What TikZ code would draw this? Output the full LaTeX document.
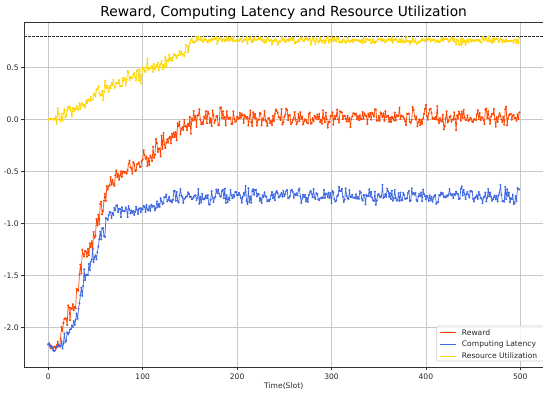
\documentclass[tikz,border=0pt]{standalone}
\usepackage{fontspec}
\setmainfont{DejaVu Sans}
\definecolor{rewardc}{HTML}{FF4500}
\definecolor{latc}{HTML}{4169E1}
\definecolor{utilc}{HTML}{FFD700}
\definecolor{gridc}{HTML}{C8C8C8}
\definecolor{spinec}{HTML}{333333}
\definecolor{legedge}{HTML}{D0D0D0}

\newcommand\mkseries[2]{%
  \gdef\serpts{}%
  \foreach \ta/\va/\tb/\vb/\sg in {#2}{%
    \pgfmathtruncatemacro\tbm{\tb-1}%
    \foreach \ti in {\ta,...,\tbm}{%
      \pgfmathsetmacro\vv{\va+(\vb-\va)*(\ti-\ta)/(\tb-\ta)+\sg*(rand+rand+rand)}%
      \xdef\serpts{\serpts (\ti,\vv)}%
    }%
  }%
  \global\expandafter\let\csname #1\endcsname\serpts
}

\tikzset{
  series/.style={line width=0.7pt, line join=round, mark=*, mark size=0.7pt},
  gridline/.style={draw=gridc, line width=0.6pt},
  spine/.style={draw=spinec, line width=0.7pt},
  tickmark/.style={draw=spinec, line width=0.6pt},
  ticklab/.style={font=\fontsize{7.6}{9}\selectfont, text=black!85, inner sep=0pt},
  legtext/.style={font=\fontsize{7.6}{9}\selectfont, text=black!85, anchor=west, inner sep=0pt},
}

\begin{document}
\pgfmathsetseed{20240}
\mkseries{rewpts}{0/-2.15/5/-2.22/0.01, 5/-2.22/10/-2.15/0.015, 10/-2.15/20/-1.92/0.05, 20/-1.92/30/-1.74/0.06, 30/-1.74/35/-1.42/0.065, 35/-1.42/44/-1.22/0.065, 44/-1.22/51/-1.03/0.06, 51/-1.03/57/-0.88/0.06, 57/-0.88/62/-0.66/0.05, 62/-0.66/72/-0.58/0.04, 72/-0.58/90/-0.46/0.045, 90/-0.46/108/-0.39/0.05, 108/-0.39/122/-0.23/0.055, 122/-0.23/140/-0.10/0.05, 140/-0.10/160/0.01/0.045, 160/0.01/500/0.02/0.044}
\mkseries{latpts}{0/-2.15/6/-2.23/0.008, 6/-2.23/10/-2.17/0.01, 10/-2.17/14/-2.20/0.01, 14/-2.20/23/-2.00/0.035, 23/-2.00/32/-1.85/0.04, 32/-1.85/37/-1.58/0.055, 37/-1.58/48/-1.36/0.055, 48/-1.36/55/-1.17/0.05, 55/-1.17/62/-0.98/0.045, 62/-0.98/67/-0.89/0.025, 67/-0.89/97/-0.87/0.024, 97/-0.87/115/-0.84/0.03, 115/-0.84/125/-0.77/0.03, 125/-0.77/160/-0.74/0.035, 160/-0.74/500/-0.735/0.039}
\mkseries{utipts}{0/0.0/7/0.0/0.004, 7/0.0/50/0.22/0.036, 50/0.22/100/0.45/0.038, 100/0.45/148/0.66/0.038, 148/0.66/151/0.76/0.01, 151/0.76/500/0.758/0.016}
\begin{tikzpicture}[x=1pt,y=-1pt]
\useasboundingbox (0,0) rectangle (543,394);
% grid
\foreach \t in {0,100,200,300,400,500}{
  \draw[gridline] ({48.3+0.944*\t},22) -- ({48.3+0.944*\t},367.3);
}
\foreach \v in {0.5,0,-0.5,-1,-1.5,-2}{
  \draw[gridline] (24.3,{119.3-104*\v}) -- (543,{119.3-104*\v});
}
% dashed reference
\draw[black!80, line width=0.6pt, dash pattern=on 2.8pt off 1.2pt] (24.3,{119.3-104*0.8}) -- (543,{119.3-104*0.8});
% data
\begin{scope}[shift={(48.3pt,-119.3pt)}, x=0.944pt, y=104pt]
  \edef\tmp{\noexpand\draw[series, color=rewardc] plot coordinates {\rewpts};}\tmp
  \edef\tmp{\noexpand\draw[series, color=latc] plot coordinates {\latpts};}\tmp
  \edef\tmp{\noexpand\draw[series, color=utilc] plot coordinates {\utipts};}\tmp
\end{scope}
% spines
\draw[spine] (543,22) -- (24.3,22) -- (24.3,367.3) -- (543,367.3);
% x ticks
\foreach \t in {0,100,200,300,400,500}{
  \draw[tickmark] ({48.3+0.944*\t},367.3) -- ({48.3+0.944*\t},370.3);
  \node[ticklab] (xt\t) at ({48.3+0.944*\t},377) {\t};
}
% y ticks
\foreach \v/\lab/\nm in {0.5/0.5/a,0/0.0/b,-0.5/-0.5/c,-1/-1.0/d,-1.5/-1.5/e,-2/-2.0/f}{
  \draw[tickmark] (24.3,{119.3-104*\v}) -- (21.3,{119.3-104*\v});
  \node[ticklab, anchor=east] (yt\nm) at (18.8,{119.3-104*\v}) {\lab};
}
% title and label
\node[font=\fontsize{13.8}{16}\selectfont, inner sep=0pt] (title) at (283.7,12.5) {Reward, Computing Latency and Resource Utilization};
\node[ticklab] (xlabel) at (283.7,386) {Time(Slot)};
% legend
\draw[legedge, fill=white, fill opacity=0.8, line width=0.6pt, rounded corners=2pt] (436.7,326) rectangle (548,361);
\foreach \y/\c/\txt/\nm in {332.7/rewardc/Reward/lr, 344.4/latc/Computing Latency/ll, 356/utilc/Resource Utilization/lu}{
  \draw[color=\c, line width=0.6pt] (439.5,\y) -- (456,\y);
  \fill[color=\c] (447.7,\y) circle (0.65pt);
  \node[legtext] (\nm) at (461.7,\y) {\txt};
}
\end{tikzpicture}
\end{document}
